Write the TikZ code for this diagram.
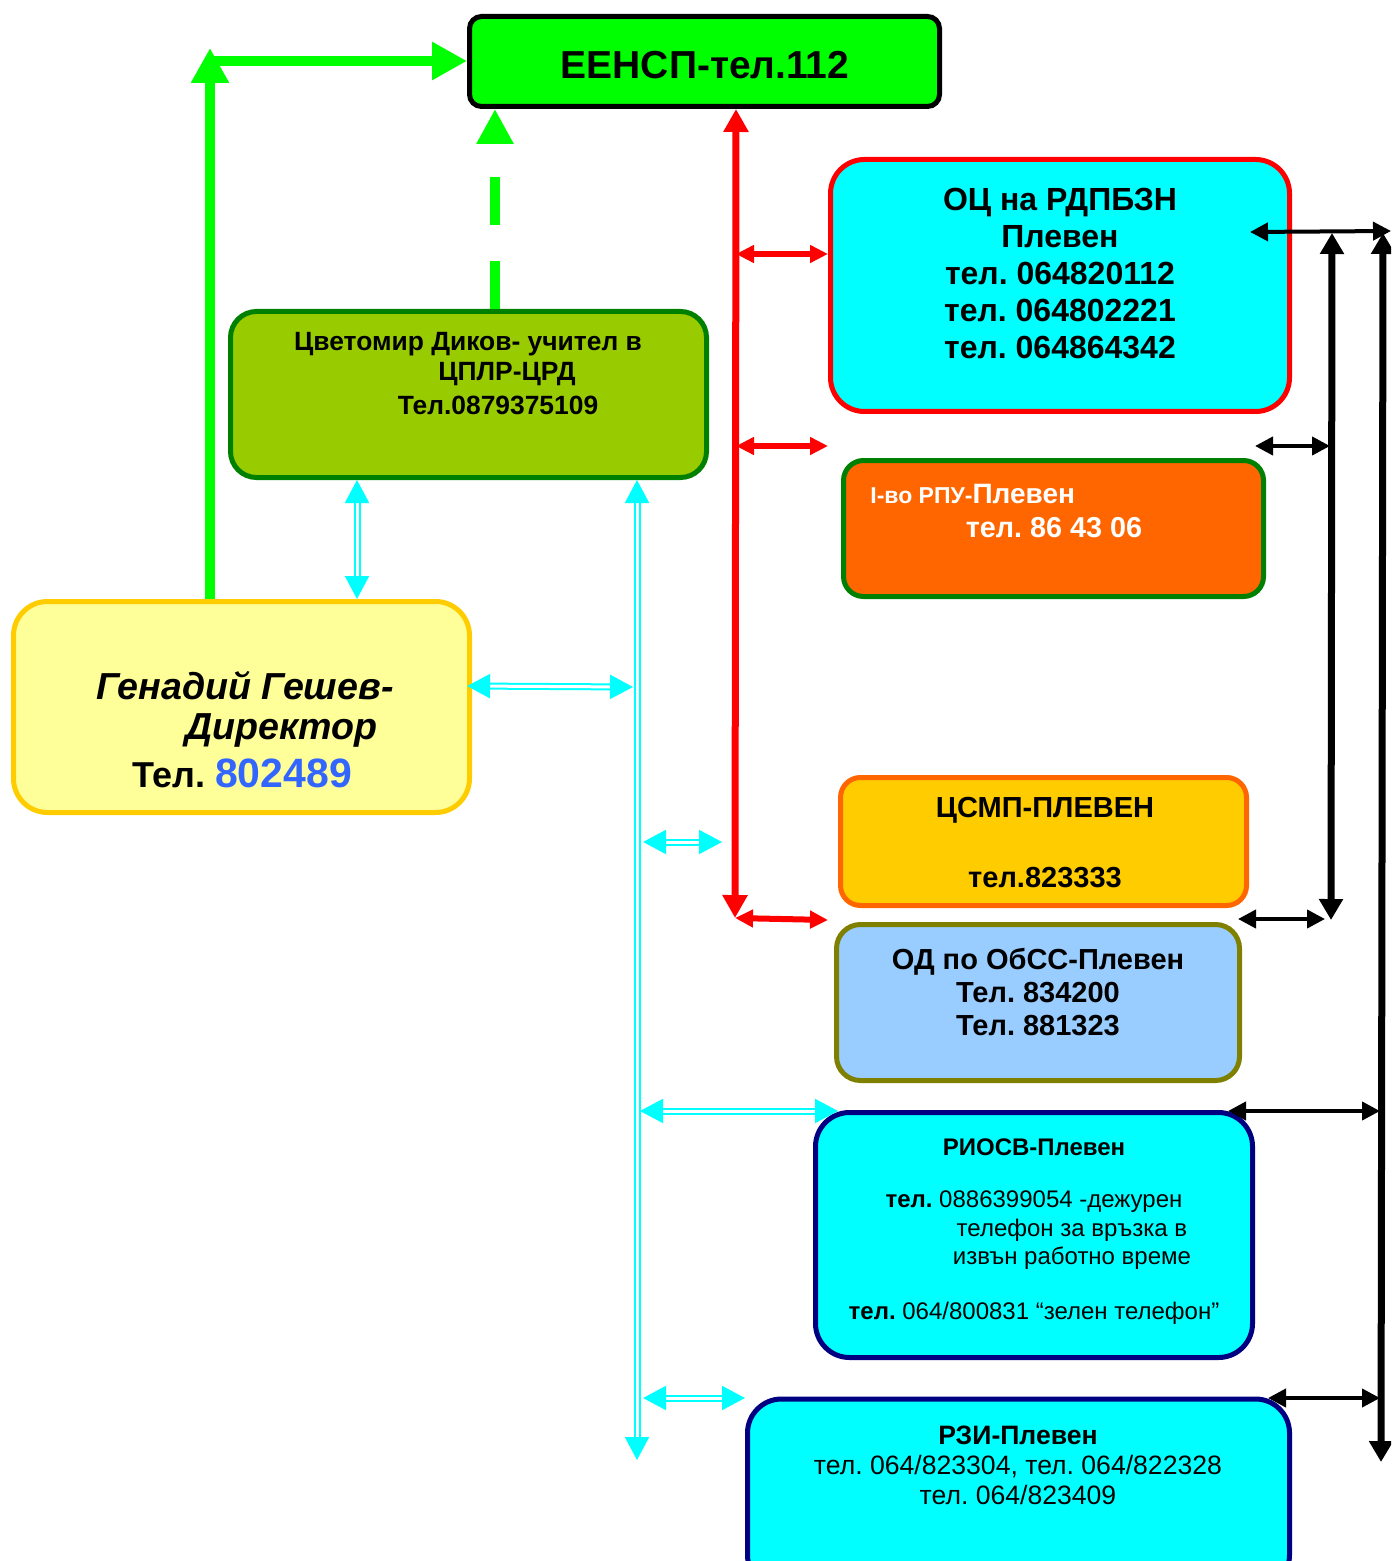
\documentclass[tikz,border=0pt]{standalone}
\usepackage{fontspec}
\setmainfont{Liberation Sans}
\usetikzlibrary{arrows.meta}
\frenchspacing
\definecolor{cgreen}{HTML}{00FF00}
\definecolor{ccyan}{HTML}{00FFFF}
\definecolor{cred}{HTML}{FF0000}
\definecolor{olivegreen}{HTML}{99CC00}
\definecolor{dgreen}{HTML}{008000}
\definecolor{corange}{HTML}{FF6600}
\definecolor{lyellow}{HTML}{FFFF99}
\definecolor{cgold}{HTML}{FFCC00}
\definecolor{lblue}{HTML}{99CCFF}
\definecolor{colive}{HTML}{808000}
\definecolor{cnavy}{HTML}{000080}
\definecolor{numblue}{HTML}{3366FF}
\tikzset{
  box/.style={draw, line width=2.5pt, inner sep=0pt},
  txt/.style={inner sep=0pt, align=center, execute at begin node=\frenchspacing},
  garr/.style={draw=cgreen, line width=5pt, -{Triangle[length=17.5pt,width=18pt]}},
  gdash/.style={draw=cgreen, line width=5pt, dash pattern=on 24pt off 18pt, -{Triangle[length=17.5pt,width=17.5pt]}},
  rv/.style={draw=cred, line width=3.5pt, {Triangle[length=11.5pt,width=12pt]}-{Triangle[length=11.5pt,width=12pt]}},
  rh/.style={draw=cred, line width=3pt, {Triangle[length=9pt,width=8.5pt]}-{Triangle[length=9pt,width=8.5pt]}},
  bv/.style={draw=black, line width=3.5pt, {Triangle[length=10.5pt,width=11.5pt]}-{Triangle[length=10.5pt,width=11.5pt]}},
  bh/.style={draw=black, line width=2pt, {Triangle[length=9pt,width=9pt]}-{Triangle[length=9pt,width=9pt]}},
  cyarr/.style={draw=ccyan, line width=1pt, double=white, double distance=1.5pt, {Triangle[length=11.5pt,width=12pt]}-{Triangle[length=11.5pt,width=12pt]}},
}
\begin{document}
\begin{tikzpicture}[x=0.5pt,y=-0.5pt]
\useasboundingbox (0,0) rectangle (1391,1561);
\clip (0,0) rectangle (1391,1561);

% boxes
\node[box, fill=cgreen, draw=black, minimum width=235pt, minimum height=45pt, rounded corners=6pt] (eensp) at (704.5,61.5) {};
\node[box, fill=ccyan, draw=cred, minimum width=229.5pt, minimum height=126pt, rounded corners=17pt] (oc) at (1060,285.5) {};
\node[box, fill=olivegreen, draw=dgreen, minimum width=238pt, minimum height=83pt, rounded corners=13pt] (tsv) at (468.5,394.5) {};
\node[box, fill=corange, draw=dgreen, minimum width=210pt, minimum height=68pt, rounded corners=10pt] (rpu) at (1053.5,528.5) {};
\node[box, fill=lyellow, draw=cgold, minimum width=228pt, minimum height=105.5pt, rounded corners=17pt] (gen) at (241.5,707) {};
\node[box, fill=cgold, draw=corange, minimum width=203pt, minimum height=64pt, rounded corners=10pt] (csmp) at (1043.5,841.5) {};
\node[box, fill=lblue, draw=colive, minimum width=201.5pt, minimum height=78pt, rounded corners=12pt] (od) at (1038,1002.5) {};
\node[box, fill=ccyan, draw=cnavy, minimum width=218.5pt, minimum height=122.5pt, rounded corners=17pt] (rio) at (1034,1235) {};
\node[box, fill=ccyan, draw=cnavy, minimum width=271pt, minimum height=95pt, rounded corners=17pt] (rzi) at (1018.5,1494) {};

% texts
\node[txt, font=\fontsize{19.5}{23}\selectfont\bfseries] (teensp) at (705,65) {ЕЕНСП-тел.112};
\node[txt, font=\fontsize{16}{18.5}\selectfont\bfseries] (toc) at (1060,274) {ОЦ на РДПБЗН\\Плевен\\тел. 064820112\\тел. 064802221\\тел. 064864342};
\node[txt, font=\fontsize{13.2}{15}\selectfont\bfseries] (ttsva) at (468,344) {Цветомир Диков- учител в};
\node[txt, font=\fontsize{13.2}{15}\selectfont\bfseries] (ttsvb) at (507,374) {ЦПЛР-ЦРД};
\node[txt, font=\fontsize{13.2}{15}\selectfont\bfseries] (ttsvc) at (498,405) {Тел.0879375109};
\node[txt, anchor=base west, text=white, font=\bfseries] (trpua) at (870,503) {{\fontsize{11.5}{13}\selectfont I-во РПУ-}{\fontsize{14}{16}\selectfont Плевен}};
\node[txt, text=white, font=\fontsize{14.4}{16}\selectfont\bfseries] (trpub) at (1054,528) {тел. 86 43 06};
\node[txt, font=\fontsize{18.8}{21}\selectfont\bfseries\itshape] (tgena) at (245,686) {Генадий Гешев-};
\node[txt, font=\fontsize{18.8}{21}\selectfont\bfseries\itshape] (tgenb) at (281,730) {Директор};
\node[txt, font=\fontsize{18}{21}\selectfont\bfseries] (tgenc) at (242,773) {Тел. {\color{numblue}\fontsize{20.5}{21}\selectfont 802489}};
\node[txt, font=\fontsize{14.5}{17}\selectfont\bfseries] (tcsmpa) at (1045,810) {ЦСМП-ПЛЕВЕН};
\node[txt, font=\fontsize{14.5}{17}\selectfont\bfseries] (tcsmpb) at (1045,878) {тел.823333};
\node[txt, font=\fontsize{14.5}{16.5}\selectfont\bfseries] (tod) at (1038,992) {ОД по ОбСС-Плевен\\Тел. 834200\\Тел. 881323};
\node[txt, font=\fontsize{12}{14}\selectfont\bfseries] (trioa) at (1034,1147) {РИОСВ-Плевен};
\node[txt, font=\fontsize{12}{14}\selectfont] (triob) at (1034,1202) {\textbf{тел.} 0886399054 -дежурен};
\node[txt, font=\fontsize{12}{14}\selectfont] (trioc) at (1072,1230) {телефон за връзка в};
\node[txt, font=\fontsize{12}{14}\selectfont] (triod) at (1072,1258) {извън работно време};
\node[txt, font=\fontsize{12}{14}\selectfont] (trioe) at (1034,1313) {\textbf{тел.} 064/800831 “зелен телефон”};
\node[txt, font=\fontsize{13.3}{15}\selectfont] (trzi) at (1018,1465) {\textbf{РЗИ-Плевен}\\тел. 064/823304, тел. 064/822328\\тел. 064/823409};

% coordinates
\coordinate (gx) at (210,48);
\coordinate (gh) at (210,61);
\coordinate (dx) at (495,0);
\coordinate (rx) at (736,0);
\coordinate (rbot) at (735,918);
\coordinate (r1) at (736,254);
\coordinate (r2) at (736,446);
\coordinate (r2e) at (828,446);
\coordinate (r3) at (735,918);
\coordinate (r3e) at (828,920);
\coordinate (b1t) at (1332,233);
\coordinate (b1b) at (1331,920);
\coordinate (b2t) at (1383,233);
\coordinate (b2b) at (1381,1462);
\coordinate (h1a) at (1250,232);
\coordinate (h1b) at (1391,231);
\coordinate (h2a) at (1255,446);
\coordinate (h2b) at (1330,446);
\coordinate (h3a) at (1238,919);
\coordinate (h3b) at (1325,919);
\coordinate (h4a) at (1228,1111);
\coordinate (h4b) at (1380,1111);
\coordinate (h5a) at (1268,1398);
\coordinate (h5b) at (1380,1398);
\coordinate (cvx) at (637,0);
\coordinate (cvb) at (637,1460);
\coordinate (c1x) at (357,0);
\coordinate (c2a) at (467,686);
\coordinate (c2b) at (633,687);
\coordinate (c3a) at (643,842);
\coordinate (c3b) at (722,842);
\coordinate (c4a) at (640,1111);
\coordinate (c4b) at (838,1111);
\coordinate (c5a) at (643,1398);
\coordinate (c5b) at (745,1398);

% green
\draw[garr] (gen.north -| gx) -- (gx);
\draw[garr] (gh) -- (eensp.west |- gh);
\draw[gdash] (tsv.north -| dx) -- (eensp.south -| dx);

% red
\draw[rv] (eensp.south -| rx) -- (rbot);
\draw[rh] (r1) -- (oc.west |- r1);
\draw[rh] (r2) -- (r2e);
\draw[rh] (r3) -- (r3e);

% black
\draw[bv] (b1t) -- (b1b);
\draw[bv] (b2t) -- (b2b);
\draw[bh] (h1a) -- (h1b);
\draw[bh] (h2a) -- (h2b);
\draw[bh] (h3a) -- (h3b);
\draw[bh] (h4a) -- (h4b);
\draw[bh] (h5a) -- (h5b);

% cyan
\draw[cyarr] (tsv.south -| cvx) -- (cvb);
\draw[cyarr] (tsv.south -| c1x) -- (gen.north -| c1x);
\draw[cyarr] (c2a) -- (c2b);
\draw[cyarr] (c3a) -- (c3b);
\draw[cyarr] (c4a) -- (c4b);
\draw[cyarr] (c5a) -- (c5b);
\end{tikzpicture}
\end{document}
